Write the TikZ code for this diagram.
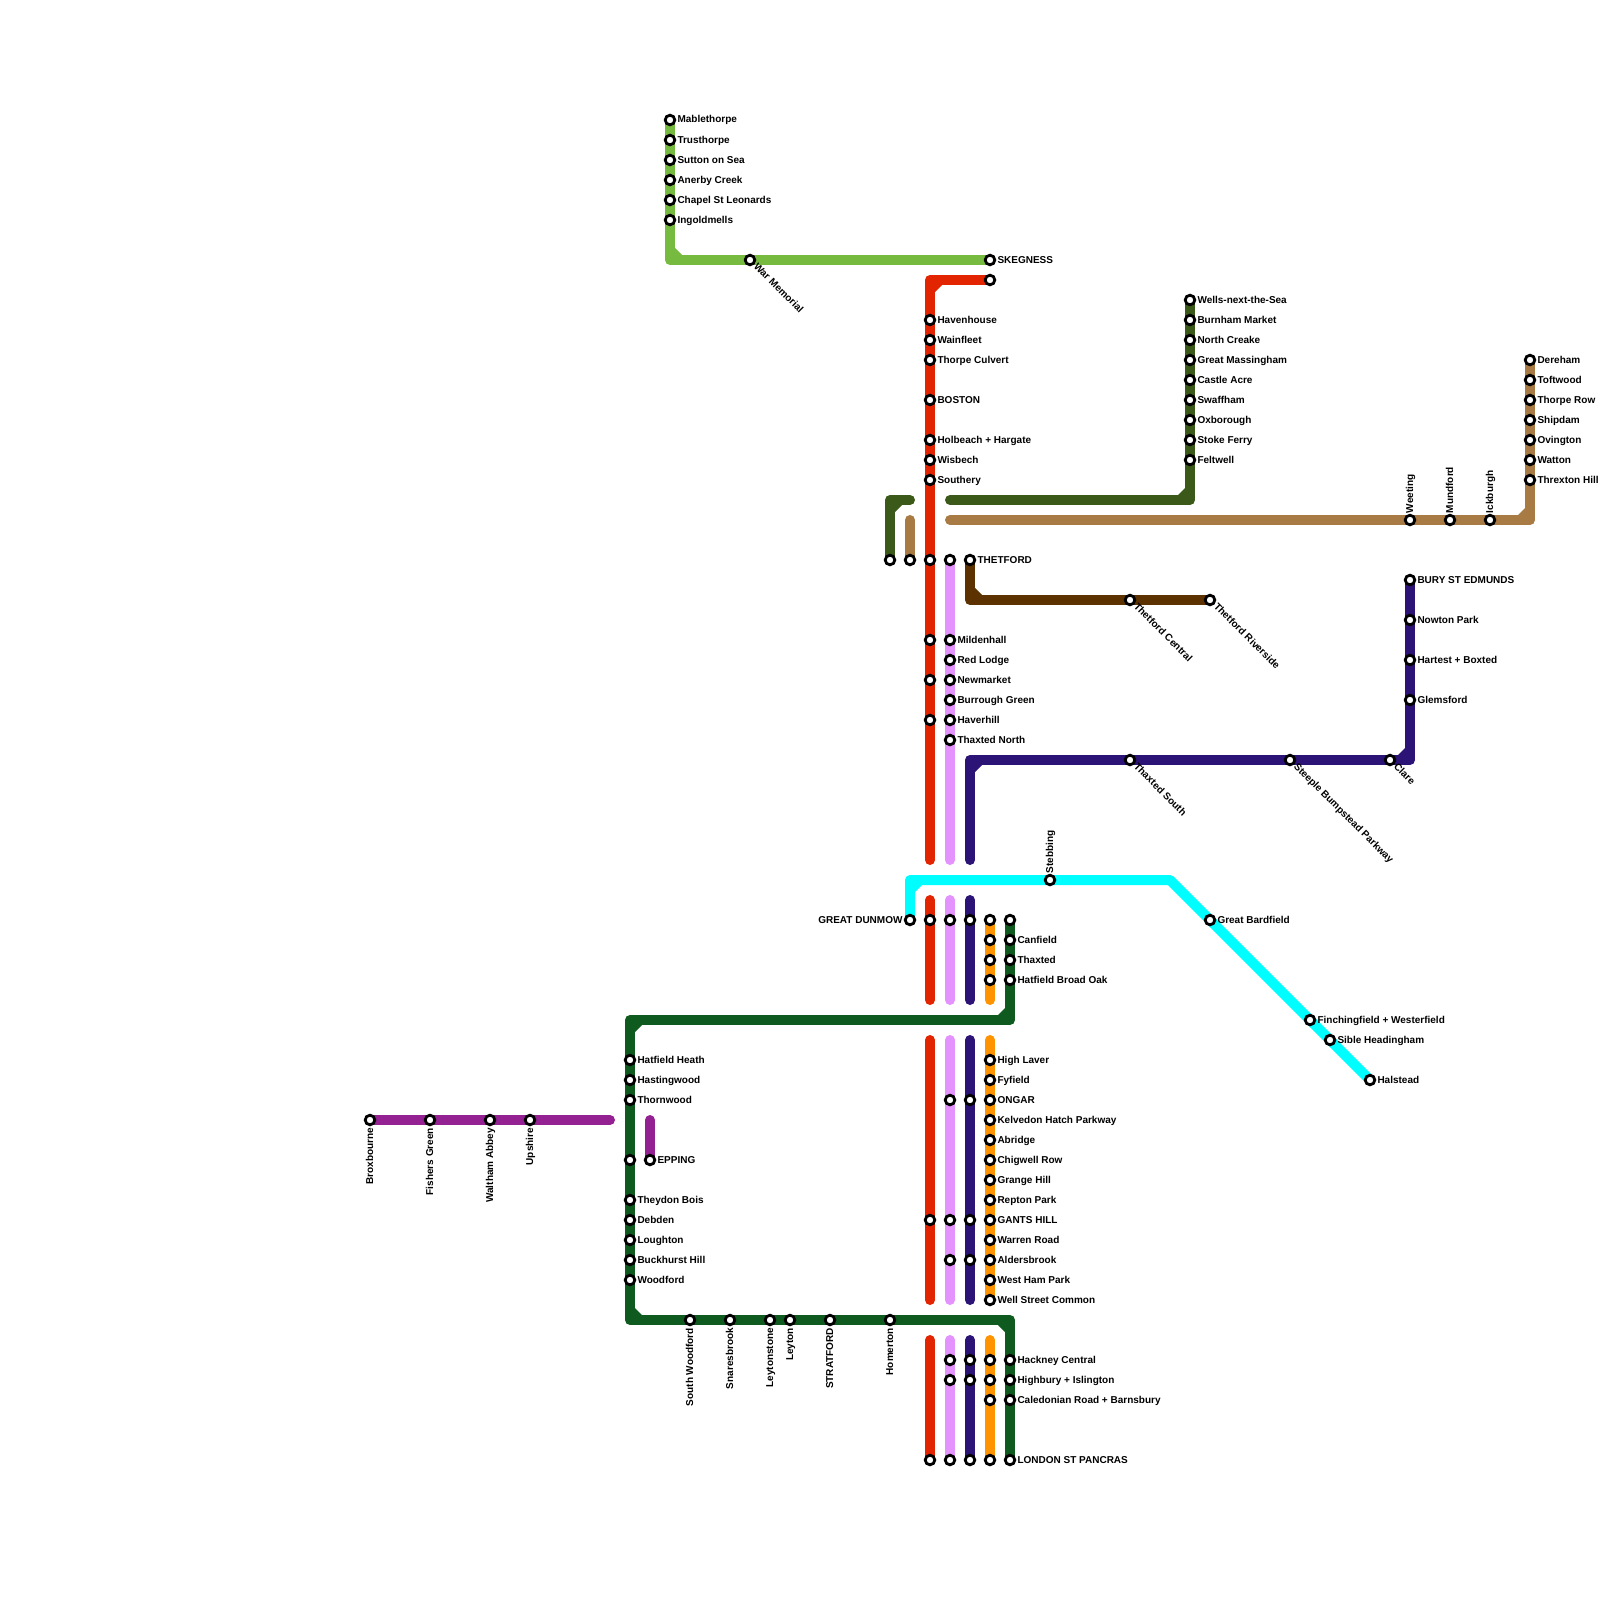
\documentclass[tikz,border=0pt]{standalone}
\usepackage{fontspec}
\setmainfont{Liberation Sans}
\usetikzlibrary{calc}
\definecolor{cLime}{HTML}{76BB40}
\definecolor{cRed}{HTML}{E32400}
\definecolor{cPink}{HTML}{E392FE}
\definecolor{cNavy}{HTML}{2C1376}
\definecolor{cOrange}{HTML}{FF9300}
\definecolor{cForest}{HTML}{0F5A1E}
\definecolor{cOlive}{HTML}{3B5A1A}
\definecolor{cTan}{HTML}{A97B44}
\definecolor{cBrown}{HTML}{5C3300}
\definecolor{cPurple}{HTML}{942192}
\definecolor{cCyan}{HTML}{00FDFF}
\pgfdeclarelayer{lines}
\pgfsetlayers{lines,main}
\tikzset{
  x=1pt,y=-1pt,
  st/.style={circle,draw=black,fill=white,line width=2.8pt,minimum size=9.6pt,inner sep=0pt,outer sep=0pt},
  lbl/.style={font=\bfseries\fontsize{10}{12}\selectfont,text=black,inner sep=0pt,outer sep=0pt},
  route/.style={line width=10pt,line cap=round,line join=round},
}
\newcommand\stn[3]{\node[st] (#1) at (#2,#3) {};}
\newcommand\stE[4]{\stn{#1}{#2}{#3}\node[lbl,anchor=base west] (#1t) at (#2+7.5,#3+3.0) {#4};}
\newcommand\stW[4]{\stn{#1}{#2}{#3}\node[lbl,anchor=base east] (#1t) at (#2-7.5,#3+3.0) {#4};}
\newcommand\stU[4]{\stn{#1}{#2}{#3}\node[lbl,rotate=90,anchor=base west] (#1t) at (#2+3.0,#3-7) {#4};}
\newcommand\stD[4]{\stn{#1}{#2}{#3}\node[lbl,rotate=90,anchor=base east] (#1t) at (#2+3.0,#3+8) {#4};}
\newcommand\stS[4]{\stn{#1}{#2}{#3}\node[lbl,rotate=-45,anchor=base west] (#1t) at (#2+3.3,#3+7.3) {#4};}
\newcommand\bendfill[4]{\fill[#1] ([shift={(5*#3,5*#4)}]#2) -- ++(7*#3,0) -- ++(-7*#3,7*#4) -- cycle;}
\begin{document}
\begin{tikzpicture}
\useasboundingbox (0,0) rectangle (1600,1600);
% lime
\stE{ma}{670}{120}{Mablethorpe}\stE{tr}{670}{140}{Trusthorpe}\stE{su}{670}{160}{Sutton on Sea}
\stE{an}{670}{180}{Anerby Creek}\stE{ch}{670}{200}{Chapel St Leonards}\stE{in}{670}{220}{Ingoldmells}
\stS{wm}{750}{260}{War Memorial}\stE{sk}{990}{260}{SKEGNESS}
% red
\stn{rt}{990}{280}
\stE{ha}{930}{320}{Havenhouse}\stE{wa}{930}{340}{Wainfleet}\stE{thc}{930}{360}{Thorpe Culvert}
\stE{bo}{930}{400}{BOSTON}\stE{ho}{930}{440}{Holbeach + Hargate}\stE{wi}{930}{460}{Wisbech}\stE{so}{930}{480}{Southery}
\stn{r1}{930}{560}\stn{r2}{930}{640}\stn{r3}{930}{680}\stn{r4}{930}{720}
\stn{r5}{930}{920}\stn{r6}{930}{1220}\stn{r7}{930}{1460}
% pink
\stn{p1}{950}{560}\stE{mi}{950}{640}{Mildenhall}\stE{rl}{950}{660}{Red Lodge}\stE{ne}{950}{680}{Newmarket}
\stE{bg}{950}{700}{Burrough Green}\stE{hv}{950}{720}{Haverhill}\stE{tn}{950}{740}{Thaxted North}
\stn{p2}{950}{920}\stn{p3}{950}{1100}\stn{p4}{950}{1220}\stn{p5}{950}{1260}\stn{p6}{950}{1360}\stn{p7}{950}{1380}\stn{p8}{950}{1460}
% navy
\stE{bu}{1410}{580}{BURY ST EDMUNDS}\stE{nw}{1410}{620}{Nowton Park}\stE{hb}{1410}{660}{Hartest + Boxted}\stE{gl}{1410}{700}{Glemsford}
\stS{cl}{1390}{760}{Clare}\stS{sb}{1290}{760}{Steeple Bumpstead Parkway}\stS{ts}{1130}{760}{Thaxted South}
\stn{n1}{970}{920}\stn{n2}{970}{1100}\stn{n3}{970}{1220}\stn{n4}{970}{1260}\stn{n5}{970}{1360}\stn{n6}{970}{1380}\stn{n7}{970}{1460}
% orange
\stn{o1}{990}{920}\stn{o2}{990}{940}\stn{o3}{990}{960}\stn{o4}{990}{980}
\stE{hl}{990}{1060}{High Laver}\stE{fy}{990}{1080}{Fyfield}\stE{on}{990}{1100}{ONGAR}\stE{ke}{990}{1120}{Kelvedon Hatch Parkway}
\stE{ab}{990}{1140}{Abridge}\stE{cr}{990}{1160}{Chigwell Row}\stE{gh}{990}{1180}{Grange Hill}\stE{rp}{990}{1200}{Repton Park}
\stE{ga}{990}{1220}{GANTS HILL}\stE{wr}{990}{1240}{Warren Road}\stE{al}{990}{1260}{Aldersbrook}\stE{wh}{990}{1280}{West Ham Park}\stE{ws}{990}{1300}{Well Street Common}
\stn{o5}{990}{1360}\stn{o6}{990}{1380}\stn{o7}{990}{1400}\stn{o8}{990}{1460}
% forest
\stn{f1}{1010}{920}\stE{ca}{1010}{940}{Canfield}\stE{tx}{1010}{960}{Thaxted}\stE{hf}{1010}{980}{Hatfield Broad Oak}
\stE{hh}{630}{1060}{Hatfield Heath}\stE{hs}{630}{1080}{Hastingwood}\stE{tw}{630}{1100}{Thornwood}\stn{f2}{630}{1160}
\stE{tb}{630}{1200}{Theydon Bois}\stE{de}{630}{1220}{Debden}\stE{lo}{630}{1240}{Loughton}\stE{bh}{630}{1260}{Buckhurst Hill}\stE{wo}{630}{1280}{Woodford}
\stD{sw}{690}{1320}{South Woodford}\stD{sn}{730}{1320}{Snaresbrook}\stD{ls}{770}{1320}{Leytonstone}\stD{ly}{790}{1320}{Leyton}\stD{sf}{830}{1320}{STRATFORD}\stD{hm}{890}{1320}{Homerton}
\stE{hc}{1010}{1360}{Hackney Central}\stE{hi}{1010}{1380}{Highbury + Islington}\stE{cd}{1010}{1400}{Caledonian Road + Barnsbury}\stE{lp}{1010}{1460}{LONDON ST PANCRAS}
% purple
\stD{bx}{370}{1120}{Broxbourne}\stD{fg}{430}{1120}{Fishers Green}\stD{ta}{490}{1120}{Waltham Abbey}\stD{up}{530}{1120}{Upshire}
\stE{ep}{650}{1160}{EPPING}
% cyan
\stW{gd}{910}{920}{GREAT DUNMOW}\stU{sg}{1050}{880}{Stebbing}\stE{gb}{1210}{920}{Great Bardfield}
\stE{fw}{1310}{1020}{Finchingfield + Westerfield}\stE{sh}{1330}{1040}{Sible Headingham}\stE{hl2}{1370}{1080}{Halstead}
% tan
\stU{we}{1410}{520}{Weeting}\stU{mu}{1450}{520}{Mundford}\stU{ic}{1490}{520}{Ickburgh}
\stE{dh}{1530}{360}{Dereham}\stE{tf}{1530}{380}{Toftwood}\stE{tp}{1530}{400}{Thorpe Row}\stE{sd}{1530}{420}{Shipdam}
\stE{ov}{1530}{440}{Ovington}\stE{wt}{1530}{460}{Watton}\stE{th}{1530}{480}{Threxton Hill}
\stn{t1}{910}{560}
% olive
\stE{wn}{1190}{300}{Wells-next-the-Sea}\stE{bm}{1190}{320}{Burnham Market}\stE{nc}{1190}{340}{North Creake}\stE{gm}{1190}{360}{Great Massingham}
\stE{ac}{1190}{380}{Castle Acre}\stE{sa}{1190}{400}{Swaffham}\stE{ox}{1190}{420}{Oxborough}\stE{sy}{1190}{440}{Stoke Ferry}\stE{fe}{1190}{460}{Feltwell}
\stn{g1}{890}{560}
% brown
\stE{tt}{970}{560}{THETFORD}\stS{tc}{1130}{600}{Thetford Central}\stS{trv}{1210}{600}{Thetford Riverside}
% free ends and corners
\foreach \n/\x/\y in {cLime/670/260,cRed/930/280,rb1/930/860,rb2/930/900,rb3/930/1000,rb4/930/1040,rb5/930/1300,rb6/930/1340,
  pb1/950/860,pb2/950/900,pb3/950/1000,pb4/950/1040,pb5/950/1300,pb6/950/1340,
  nb1/970/860,nb2/970/900,nb3/970/1000,nb4/970/1040,nb5/970/1300,nb6/970/1340,nc1/970/760,nc2/1410/760,
  ob1/990/1000,ob2/990/1040,ob3/990/1300,ob4/990/1340,
  fc1/1010/1020,fc2/630/1020,fc3/630/1320,fc4/1010/1320,
  ue1/610/1120,ue2/650/1120,
  cc1/910/880,cc2/1170/880,
  te1/950/520,tc1/1530/520,te2/910/520,
  ge1/950/500,gc1/1190/500,gc2/890/500,ge2/910/500,
  bc1/970/600}{\coordinate (\n) at (\x,\y);}
\begin{pgfonlayer}{lines}
\draw[route,cLime] (ma.center) -- (cLime) -- (sk.center);
\bendfill{cLime}{cLime}{1}{-1}
\draw[route,cRed] (rt.center) -- (cRed) -- (rb1);
\bendfill{cRed}{cRed}{1}{1}
\draw[route,cRed] (rb2) -- (rb3);
\draw[route,cRed] (rb4) -- (rb5);
\draw[route,cRed] (rb6) -- (r7.center);
\draw[route,cPink] (p1.center) -- (pb1);
\draw[route,cPink] (pb2) -- (pb3);
\draw[route,cPink] (pb4) -- (pb5);
\draw[route,cPink] (pb6) -- (p8.center);
\draw[route,cNavy] (nb1) -- (nc1) -- (nc2) -- (bu.center);
\bendfill{cNavy}{nc1}{1}{1}
\bendfill{cNavy}{nc2}{-1}{-1}
\draw[route,cNavy] (nb2) -- (nb3);
\draw[route,cNavy] (nb4) -- (nb5);
\draw[route,cNavy] (nb6) -- (n7.center);
\draw[route,cOrange] (o1.center) -- (ob1);
\draw[route,cOrange] (ob2) -- (ob3);
\draw[route,cOrange] (ob4) -- (o8.center);
\draw[route,cForest] (f1.center) -- (fc1) -- (fc2) -- (fc3) -- (fc4) -- (lp.center);
\bendfill{cForest}{fc1}{-1}{-1}
\bendfill{cForest}{fc2}{1}{1}
\bendfill{cForest}{fc3}{1}{-1}
\bendfill{cForest}{fc4}{-1}{1}
\draw[route,cPurple] (bx.center) -- (ue1);
\draw[route,cPurple] (ue2) -- (ep.center);
\draw[route,cCyan] (gd.center) -- (cc1) -- (cc2) -- (hl2.center);
\bendfill{cCyan}{cc1}{1}{1}
\draw[route,cTan] (te1) -- (tc1) -- (dh.center);
\bendfill{cTan}{tc1}{-1}{-1}
\draw[route,cTan] (te2) -- (t1.center);
\draw[route,cOlive] (ge1) -- (gc1) -- (wn.center);
\bendfill{cOlive}{gc1}{-1}{-1}
\draw[route,cOlive] (g1.center) -- (gc2) -- (ge2);
\bendfill{cOlive}{gc2}{1}{1}
\draw[route,cBrown] (tt.center) -- (bc1) -- (trv.center);
\bendfill{cBrown}{bc1}{1}{-1}
\end{pgfonlayer}
\end{tikzpicture}
\end{document}
